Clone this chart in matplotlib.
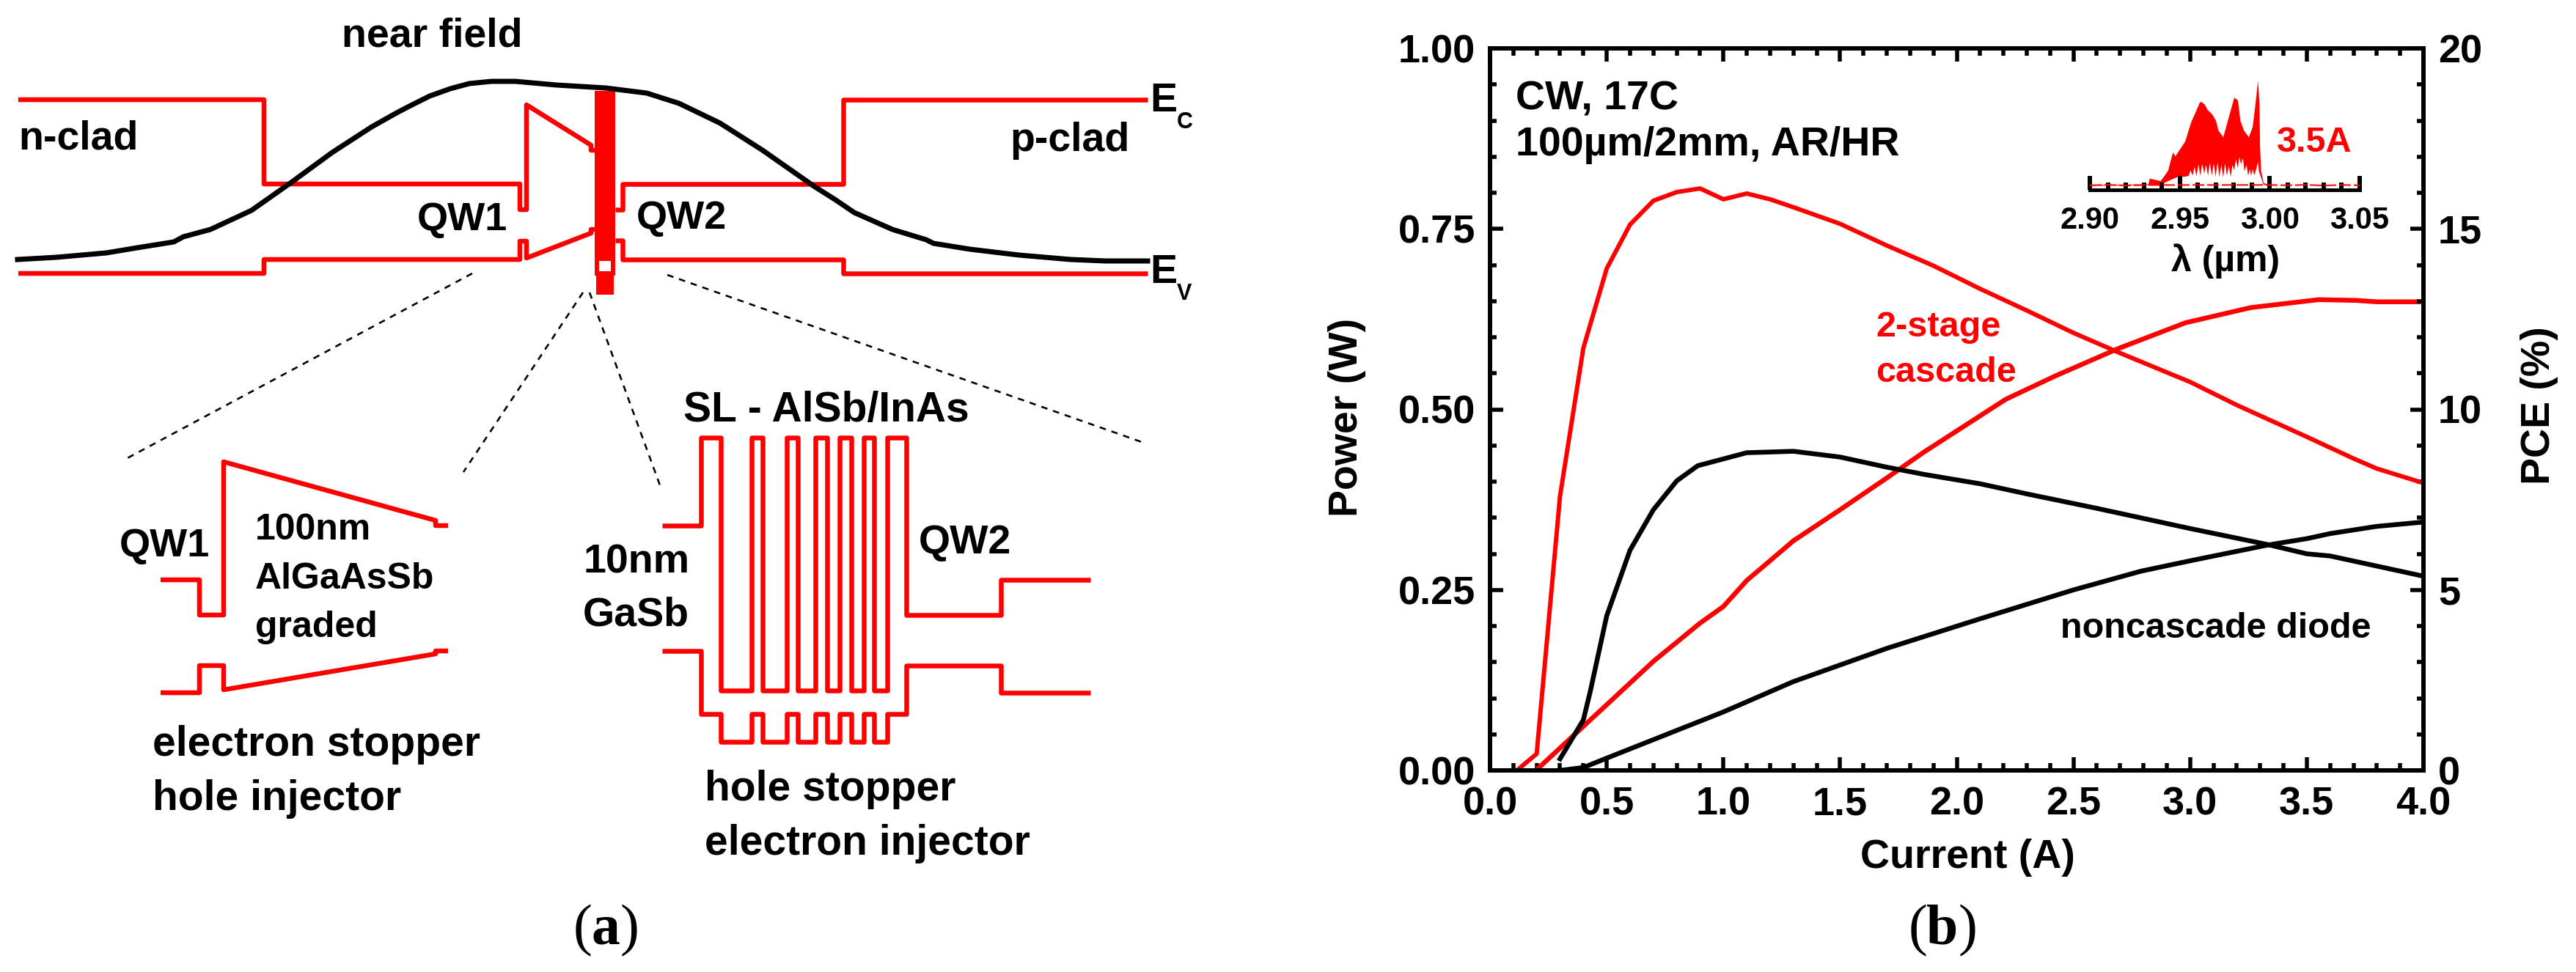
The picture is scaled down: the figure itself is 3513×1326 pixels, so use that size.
import matplotlib
matplotlib.use("Agg")
import matplotlib.pyplot as plt
from matplotlib.ticker import MultipleLocator, FormatStrFormatter

W, H = 3513, 1326
DPI = 100
RED = "#ff0000"
SANS = ["Liberation Sans", "DejaVu Sans"]
SERIF = ["Liberation Serif", "DejaVu Serif"]
plt.rcParams["font.family"] = SANS
plt.rcParams["font.weight"] = "bold"

# ---------- panel (b) data ----------
red_pce_x = [0.115, 0.2, 0.3, 0.4, 0.5, 0.6, 0.7, 0.8, 0.9, 1.0, 1.1, 1.2, 1.3, 1.5, 1.7, 1.9, 2.1, 2.3, 2.5, 2.7, 3.0, 3.2, 3.5, 3.7, 3.8, 4.0]
red_pce_y = [0.0, 0.46, 7.6, 11.7, 13.9, 15.12, 15.78, 16.02, 16.12, 15.82, 15.98, 15.82, 15.6, 15.14, 14.54, 13.98, 13.34, 12.74, 12.12, 11.56, 10.76, 10.12, 9.24, 8.64, 8.36, 7.96]
red_pow_x = [0.21, 0.29, 0.5, 0.7, 0.9, 1.0, 1.1, 1.3, 1.5, 1.7, 1.86, 2.21, 2.42, 2.69, 2.98, 3.26, 3.55, 3.71, 3.8, 4.0]
red_pow_y = [0.004, 0.028, 0.091, 0.151, 0.204, 0.227, 0.263, 0.318, 0.361, 0.405, 0.441, 0.514, 0.546, 0.584, 0.620, 0.641, 0.652, 0.651, 0.649, 0.649]
blk_pce_x = [0.3, 0.4, 0.43, 0.5, 0.6, 0.7, 0.8, 0.89, 1.1, 1.3, 1.5, 1.7, 1.86, 2.1, 2.3, 2.6, 2.7, 3.0, 3.33, 3.5, 3.6, 4.0]
blk_pce_y = [0.32, 1.40, 2.20, 4.28, 6.10, 7.22, 8.02, 8.44, 8.80, 8.84, 8.68, 8.40, 8.20, 7.94, 7.66, 7.26, 7.12, 6.70, 6.26, 6.00, 5.94, 5.38]
blk_pow_x = [0.3, 0.4, 0.5, 1.0, 1.3, 1.7, 2.1, 2.5, 2.79, 3.01, 3.33, 3.5, 3.6, 3.8, 4.0]
blk_pow_y = [0.0, 0.004, 0.017, 0.081, 0.123, 0.169, 0.21, 0.25, 0.276, 0.291, 0.312, 0.321, 0.328, 0.338, 0.344]

x_ticks = [0.0, 0.5, 1.0, 1.5, 2.0, 2.5, 3.0, 3.5, 4.0]
left_ticks = [0.0, 0.25, 0.5, 0.75, 1.0]
right_ticks = [0, 5, 10, 15, 20]
inset_ticks = [2.90, 2.95, 3.00, 3.05]

# inset spectrum: outline (wavelength in um, relative intensity)
spec_top_x = [2.9014, 2.9326, 2.9333, 2.9394, 2.9435, 2.9462, 2.9476, 2.9530, 2.9564, 2.9591, 2.9611, 2.9620, 2.9640, 2.9654, 2.9681, 2.9701, 2.9715, 2.9742, 2.9769, 2.9803, 2.9823, 2.9837, 2.9857, 2.9884, 2.9905, 2.9921, 2.9935, 2.9943, 2.9946, 2.9952, 2.9966, 2.9999]
spec_top_y = [0.045, 0.051, 0.103, 0.080, 0.174, 0.342, 0.308, 0.442, 0.621, 0.721, 0.799, 0.805, 0.779, 0.734, 0.690, 0.634, 0.542, 0.482, 0.643, 0.844, 0.821, 0.632, 0.542, 0.482, 0.574, 0.788, 1.0, 0.788, 0.397, 0.174, 0.062, 0.045]
spec_low_x = [2.9966, 2.9940, 2.9935, 2.9925, 2.9914, 2.9905, 2.9897, 2.9889, 2.9880, 2.9871, 2.9860, 2.9851, 2.9840, 2.9832, 2.9822, 2.9813, 2.9802, 2.9793, 2.9783, 2.9773, 2.9762, 2.9752, 2.9741, 2.9731, 2.9720, 2.9710, 2.9699, 2.9689, 2.9678, 2.9667, 2.9657, 2.9646, 2.9636, 2.9625, 2.9614, 2.9604, 2.9593, 2.9582, 2.9571, 2.9560, 2.9550, 2.9530, 2.9490, 2.9435, 2.9394, 2.9014]
spec_low_y = [0.045, 0.170, 0.257, 0.190, 0.135, 0.190, 0.130, 0.190, 0.130, 0.230, 0.170, 0.290, 0.235, 0.300, 0.200, 0.280, 0.180, 0.230, 0.120, 0.220, 0.130, 0.240, 0.115, 0.230, 0.120, 0.250, 0.120, 0.240, 0.130, 0.250, 0.130, 0.230, 0.150, 0.240, 0.130, 0.235, 0.125, 0.210, 0.130, 0.180, 0.130, 0.120, 0.120, 0.080, 0.045, 0.038]
spec_base_x = [2.90, 2.91, 2.92, 2.93, 3.00, 3.01, 3.02, 3.03, 3.04, 3.05]
spec_base_y = [0.042, 0.046, 0.040, 0.044, 0.045, 0.042, 0.046, 0.040, 0.045, 0.042]

# ---------- panel (a) schematic, drawing coordinates ----------
ec_left_x = [25, 360, 360, 709, 709, 718, 718, 806, 806, 813]
ec_left_y = [136, 136, 251, 251, 286, 286, 143, 198, 205, 205]
ec_right_x = [839, 849, 849, 1150, 1150, 1565]
ec_right_y = [286, 286, 251, 251, 136, 136]
ev_left_x = [25, 360, 360, 709, 709, 718, 718, 806, 806, 813]
ev_left_y = [373, 373, 354, 354, 329, 329, 352, 318, 313, 313]
ev_right_x = [839, 849, 849, 1150, 1150, 1565]
ev_right_y = [328, 328, 354, 354, 373, 373]
block_top_x = [811, 839, 839, 811]
block_top_y = [124, 124, 376, 376]
block_low_x = [813, 837, 837, 813]
block_low_y = [376, 376, 402, 402]
hole_x = [817, 833, 833, 817]
hole_y = [356, 356, 370, 370]
near_x = [24, 77, 145, 187, 237, 250, 287, 343, 397, 453, 507, 539, 558, 586, 614, 640, 670, 703, 759, 826, 882, 926, 982, 1040, 1110, 1140, 1165, 1217, 1263, 1273, 1323, 1390, 1460, 1507, 1565]
near_y = [354, 351, 345, 338, 330, 323, 313, 287, 249, 208, 173, 155, 145, 131, 121, 114, 111, 111, 116, 120, 127, 141, 168, 205, 254, 273, 290, 313, 327, 332, 340, 348, 354, 356, 356]
dash1_x, dash1_y = [644, 168], [373, 628]
dash2_x, dash2_y = [795, 632], [399, 644]
dash3_x, dash3_y = [804, 900], [399, 662]
dash4_x, dash4_y = [910, 1557], [375, 603]
qw1_ec_x = [219, 272, 272, 305, 305, 594, 594, 611]
qw1_ec_y = [791, 791, 839, 839, 630, 710, 717, 717]
qw1_ev_x = [219, 272, 272, 305, 305, 594, 594, 611]
qw1_ev_y = [945, 945, 908, 908, 941, 892, 888, 888]
sl_walls = [983, 1025, 1040, 1073, 1088, 1112, 1128, 1145, 1161, 1178, 1192, 1210]
sl_ec_x = [903, 956, 956, 983]
sl_ec_y = [717, 717, 597, 597]
sl_ec_tail_x = [1236, 1236, 1365, 1365, 1487]
sl_ec_tail_y = [597, 839, 839, 791, 791]
sl_ev_x = [903, 956, 956, 983]
sl_ev_y = [888, 888, 974, 974]
sl_ev_tail_x = [1236, 1236, 1365, 1365, 1487]
sl_ev_tail_y = [974, 908, 908, 945, 945]

def ax_rect(x0, y0, x1, y1):
    return [x0 / W, 1 - y1 / H, (x1 - x0) / W, (y1 - y0) / H]

fig = plt.figure(figsize=(W / DPI, H / DPI), dpi=DPI, facecolor="white")

# full figure layer in image pixels
bg = fig.add_axes([0, 0, 1, 1], zorder=5)
bg.set_xlim(0, W)
bg.set_ylim(H, 0)
bg.axis("off")
bg.patch.set_alpha(0)

px = 72 / DPI
LW = 6.5 * px

def sch(xs, ys, color=RED, lw=LW):
    bg.plot(xs, ys, color=color, lw=lw, solid_joinstyle="round", solid_capstyle="butt")

def txt(x, y, s, size=40, ha="left", color="black", **kw):
    bg.text(x, y, s, fontsize=size, ha=ha, va="baseline", color=color, fontweight=kw.pop("fontweight", "bold"), **kw)

for xs, ys in [(ec_left_x, ec_left_y), (ec_right_x, ec_right_y), (ev_left_x, ev_left_y), (ev_right_x, ev_right_y),
               (qw1_ec_x, qw1_ec_y), (qw1_ev_x, qw1_ev_y)]:
    sch(xs, ys)
bg.fill(block_top_x, block_top_y, color=RED, lw=0)
bg.fill(block_low_x, block_low_y, color=RED, lw=0)
bg.fill(hole_x, hole_y, color="white", lw=0)
bg.plot(near_x, near_y, color="black", lw=7 * px, solid_joinstyle="round")

for xs, ys in [(dash1_x, dash1_y), (dash2_x, dash2_y), (dash3_x, dash3_y), (dash4_x, dash4_y)]:
    bg.plot(xs, ys, color="black", lw=2.6 * px, dashes=(3.4, 3.1))

# superlattice: stepped conduction and valence profiles
upx, upy = list(sl_ec_x), list(sl_ec_y)
lowx, lowy = list(sl_ev_x), list(sl_ev_y)
for i, w in enumerate(sl_walls):
    a, b = (597, 942) if i % 2 == 0 else (942, 597)
    upx += [w, w]
    upy += [a, b]
    c, d = (974, 1012) if i % 2 == 0 else (1012, 974)
    lowx += [w, w]
    lowy += [c, d]
sch(upx + sl_ec_tail_x, upy + sl_ec_tail_y)
sch(lowx + sl_ev_tail_x, lowy + sl_ev_tail_y)

txt(589, 64, "near field", ha="center")
txt(25, 204, "n-clad")
txt(1377, 206, "p-clad")
txt(1568, 152, "E")
txt(1605, 175, "C", size=22)
txt(1568, 386, "E")
txt(1605, 409, "V", size=22)
txt(569, 314, "QW1", size=39)
txt(868, 312, "QW2", size=39)
txt(932, 575, "SL - AlSb/InAs", size=41)
txt(286, 759, "QW1", size=39, ha="right")
txt(348, 736, "100nm", size=36)
txt(348, 803, "AlGaAsSb", size=36)
txt(348, 869, "graded", size=36)
txt(795, 781, "10nm")
txt(795, 853, "GaSb")
txt(1253, 755, "QW2")
txt(208, 1031, "electron stopper", size=41)
txt(208, 1105, "hole injector", size=41)
txt(961, 1092, "hole stopper", size=41)
txt(961, 1166, "electron injector", size=41)

# panel letters: light parentheses round a bold letter
for xc, letter, half in [(826, "a", 19), (2649, "b", 21)]:
    txt(xc - half, 1288, "(", size=56, ha="right", family=SERIF, fontweight="normal")
    txt(xc, 1288, letter, size=56, ha="center", family=SERIF, fontweight="bold")
    txt(xc + half, 1288, ")", size=56, ha="left", family=SERIF, fontweight="normal")

# ---------- panel (b) axes ----------
ax = fig.add_axes(ax_rect(2032, 66, 3305, 1051), zorder=2)
ax2 = ax.twinx()
ax.set_xlim(0, 4)
ax.set_ylim(0, 1)
ax2.set_ylim(0, 20)
ax.set_xticks(x_ticks)
ax.xaxis.set_minor_locator(MultipleLocator(0.1))
ax.xaxis.set_major_formatter(FormatStrFormatter("%.1f"))
ax.set_yticks(left_ticks)
ax.yaxis.set_minor_locator(MultipleLocator(0.05))
ax.yaxis.set_major_formatter(FormatStrFormatter("%.2f"))
ax2.set_yticks(right_ticks)
ax2.yaxis.set_minor_locator(MultipleLocator(1))

sw = 5.7 * px
for a in (ax, ax2):
    for s in a.spines.values():
        s.set_linewidth(sw)
ax.tick_params(axis="x", which="major", direction="in", top=True, length=18 * px, width=5.5 * px, labelsize=39, pad=22 * px)
ax.tick_params(axis="x", which="minor", direction="in", top=True, length=10 * px, width=5.5 * px)
ax.tick_params(axis="y", which="major", direction="in", length=18 * px, width=5.5 * px, labelsize=39, pad=20 * px)
ax.tick_params(axis="y", which="minor", direction="in", length=9 * px, width=5.5 * px)
ax2.tick_params(axis="y", which="major", direction="in", length=18 * px, width=5.5 * px, labelsize=39, pad=20 * px)
ax2.tick_params(axis="y", which="minor", direction="in", length=9 * px, width=5.5 * px)

ax2.plot(red_pce_x, red_pce_y, color=RED, lw=6 * px)
ax2.plot(blk_pce_x, blk_pce_y, color="black", lw=6.5 * px)
ax.plot(red_pow_x, red_pow_y, color=RED, lw=6.5 * px)
ax.plot(blk_pow_x, blk_pow_y, color="black", lw=6.5 * px)

txt(2683, 1184, "Current (A)", ha="center")
bg.text(1837, 569, "Power (W)", fontsize=40, rotation=90, ha="center", va="center", fontweight="bold")
bg.text(3463, 553, "PCE (%)", fontsize=40, rotation=90, ha="center", va="center", fontweight="bold")
txt(2067, 149, "CW, 17C")
txt(2067, 212, "100\u00b5m/2mm, AR/HR")
txt(3105, 207, "3.5A", size=35, color=RED)
txt(2558, 459, "2-stage", size=35, color=RED)
txt(2558, 521, "cascade", size=35, color=RED)
txt(2810, 870, "noncascade diode", size=35)
txt(3035, 370, "\u03bb (\u00b5m)", size=36, ha="center")

# ---------- inset ----------
ins = fig.add_axes(ax_rect(2850, 110, 3218, 259), zorder=6)
ins.patch.set_alpha(0)
ins.set_xlim(2.90, 3.05)
ins.set_ylim(0, 1)
for name in ("top", "left", "right"):
    ins.spines[name].set_visible(False)
ins.spines["bottom"].set_linewidth(5 * px)
ins.set_yticks([])
ins.set_xticks(inset_ticks)
ins.xaxis.set_minor_locator(MultipleLocator(0.01))
ins.xaxis.set_major_formatter(FormatStrFormatter("%.2f"))
ins.tick_params(axis="x", which="major", direction="in", length=19 * px, width=6 * px, labelsize=30, pad=22 * px)
ins.tick_params(axis="x", which="minor", direction="in", length=10 * px, width=6 * px)
ins.fill(spec_top_x + spec_low_x, spec_top_y + spec_low_y, color=RED, lw=0)
ins.plot(spec_base_x, spec_base_y, color=RED, lw=2 * px, dashes=(8, 2))

fig.savefig("out.png", dpi=DPI, facecolor="white")
